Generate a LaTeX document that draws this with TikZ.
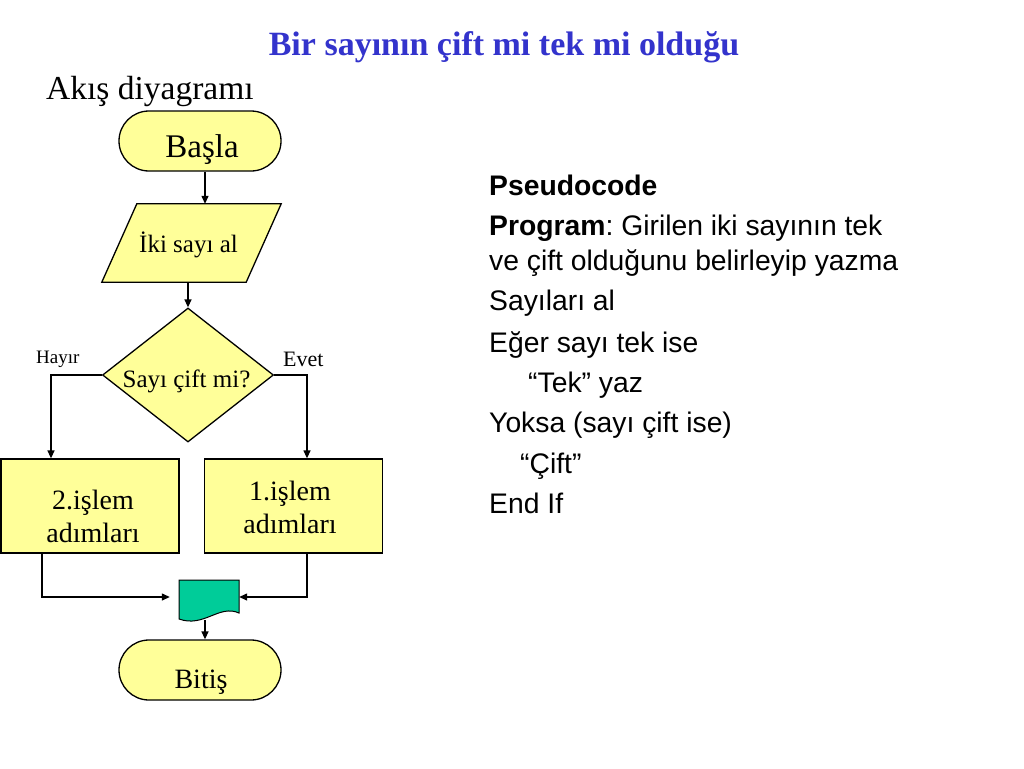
\documentclass[tikz,border=0pt]{standalone}
\usepackage{fontspec}
\setmainfont{Liberation Serif}
\newfontfamily\arialf{Liberation Sans}
\usetikzlibrary{shapes.geometric,arrows.meta}
\definecolor{fillyellow}{RGB}{255,255,153}
\definecolor{docgreen}{RGB}{0,204,153}
\definecolor{titleblue}{RGB}{51,51,204}
\frenchspacing
\begin{document}
\begin{tikzpicture}[x=1pt,y=-1pt,
  arr/.style={line width=1.3pt,-{Triangle[length=8pt,width=7pt]}},
  term/.style={draw,line width=1.3pt,fill=fillyellow,rounded corners=30pt,minimum width=162pt,minimum height=60pt,inner sep=0pt},
  proc/.style={draw,line width=1.3pt,fill=fillyellow,minimum width=178pt,minimum height=94pt,inner sep=0pt},
  txt/.style={anchor=base,inner sep=0pt},
  pseudo/.style={anchor=base west,inner sep=0pt,font=\arialf\fontsize{28.3}{34}\selectfont}]
\useasboundingbox (0,0) rectangle (1024,768);
\fill[white] (0,0) rectangle (1024,768);

% titles
\node[txt,font=\bfseries\fontsize{34}{40}\selectfont,text=titleblue] (title) at (504,56) {Bir sayının çift mi tek mi olduğu};
\node[anchor=base west,inner sep=0pt,font=\fontsize{33.5}{40}\selectfont] (akis) at (46,99) {Akış diyagramı};

% start
\node[term] (start) at (200,141) {};
\node[txt,font=\fontsize{33}{38}\selectfont] (starttext) at (202,157) {Başla};

% input parallelogram
\node[minimum width=179pt,minimum height=78pt,inner sep=0pt] (io) at (191.5,243) {};
\path[draw,fill=fillyellow,line width=1.3pt] ([xshift=35pt]io.north west) -- (io.north east) -- ([xshift=-35pt]io.south east) -- (io.south west) -- cycle;
\node[txt,font=\fontsize{25}{30}\selectfont] (iotext) at (188.5,252) {İki sayı al};

% decision
\node[diamond,draw,fill=fillyellow,line width=1.3pt,aspect=1.28,minimum width=171pt,minimum height=134pt,inner sep=0pt] (dec) at (188,375) {};
\node[txt,font=\fontsize{25}{30}\selectfont] (dectext) at (186.5,387) {Sayı çift mi?};
\node[anchor=base west,inner sep=0pt,font=\fontsize{19}{23}\selectfont] (hayir) at (36,363) {Hayır};
\node[anchor=base west,inner sep=0pt,font=\fontsize{22}{26}\selectfont] (evet) at (283,366) {Evet};

% process boxes
\node[proc] (p2) at (90,506) {};
\node[proc] (p1) at (293.5,506) {};
\node[txt,font=\fontsize{28}{34}\selectfont] (p2a) at (93,509) {2.işlem};
\node[txt,font=\fontsize{28}{34}\selectfont] (p2b) at (93,542) {adımları};
\node[txt,font=\fontsize{28}{34}\selectfont] (p1a) at (290,500) {1.işlem};
\node[txt,font=\fontsize{28}{34}\selectfont] (p1b) at (290,533) {adımları};

% document
\node[minimum width=60pt,minimum height=34pt,inner sep=0pt] (doc) at (209,597) {};
\draw[fill=docgreen,line width=1pt] (179,580) -- (239,580) -- (239,613) .. controls (219,604) and (204,628) .. (179,619) -- cycle;
\coordinate (docbottom) at (205,620);

% end
\node[term] (end) at (200,670) {};
\node[txt,font=\fontsize{28}{34}\selectfont] (endtext) at (201,688) {Bitiş};

% connectors
\draw[arr] ([xshift=5pt]start.south) -- ([xshift=5pt]start.south |- io.north);
\draw[arr] (io.south -| dec.north) -- (dec.north);
\draw[arr] (dec.west) -| ([xshift=-39pt]p2.north);
\draw[arr] (dec.east) -| ([xshift=13.5pt]p1.north);
\draw[arr] ([xshift=-48pt]p2.south) |- ([xshift=-9pt]doc.west);
\draw[arr] ([xshift=13.5pt]p1.south) |- (doc.east);
\draw[arr] (docbottom) -- (docbottom |- end.north);

% pseudocode
\node[pseudo] (ps1) at (489,195) {\textbf{Pseudocode}};
\node[pseudo] (ps2) at (489,235) {\textbf{Program}: Girilen iki sayının tek};
\node[pseudo] (ps3) at (489,270) {ve çift olduğunu belirleyip yazma};
\node[pseudo] (ps4) at (489,310) {Sayıları al};
\node[pseudo] (ps5) at (489,352) {Eğer sayı tek ise};
\node[pseudo] (ps6) at (528,392) {“Tek” yaz};
\node[pseudo] (ps7) at (489,432) {Yoksa (sayı çift ise)};
\node[pseudo] (ps8) at (520,473) {“Çift”};
\node[pseudo] (ps9) at (489,513) {End If};
\end{tikzpicture}
\end{document}
